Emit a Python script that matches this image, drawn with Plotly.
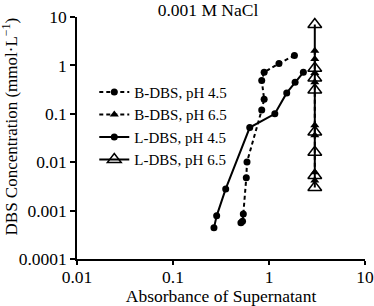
import plotly.graph_objects as go

# B-DBS, pH 4.5 (dashed, filled circles)
b45_x = [1.84, 1.27, 0.89, 0.84, 0.89, 0.84, 0.59, 0.58, 0.54, 0.53, 0.51]
b45_y = [1.6, 1.1, 0.72, 0.49, 0.2, 0.12, 0.0101, 0.0048, 0.00085, 0.0006, 0.00056]

# B-DBS, pH 6.5 (dashed, filled triangles)
b65_x = [3.0, 3.0, 3.0, 3.0, 3.0, 3.0, 3.0, 3.0]
b65_y = [2.0, 1.35, 0.7, 0.45, 0.058, 0.036, 0.0062, 0.0042]

# L-DBS, pH 4.5 (solid, filled circles)
l45_x = [2.28, 1.87, 1.53, 1.15, 0.63, 0.354, 0.285, 0.267]
l45_y = [0.72, 0.45, 0.27, 0.1, 0.052, 0.0028, 0.00078, 0.00044]

# L-DBS, pH 6.5 (solid, open triangles)
l65_x = [3.0, 3.0, 3.0, 3.0, 3.0, 3.0, 3.0, 3.0]
l65_y = [7.0, 0.87, 0.55, 0.31, 0.042, 0.016, 0.0053, 0.003]

x_tickvals = [0.01, 0.1, 1, 10]
x_ticktext = ["0.01", "0.1", "1", "10"]
y_tickvals = [0.0001, 0.001, 0.01, 0.1, 1, 10]
y_ticktext = ["0.0001", "0.001", "0.01", "0.1", "1", "10"]

FONT = "Liberation Serif"
FS = 17.5

fig = go.Figure()
fig.add_trace(go.Scatter(x=b45_x, y=b45_y, mode="lines+markers", name="B-DBS, pH 4.5",
                         line=dict(color="black", width=2, dash="4px,3px"),
                         marker=dict(symbol="circle", size=7, color="black")))
fig.add_trace(go.Scatter(x=b65_x, y=b65_y, mode="lines+markers", name="B-DBS, pH 6.5",
                         line=dict(color="black", width=2, dash="4px,3px"),
                         marker=dict(symbol="triangle-up", size=8, color="black")))
fig.add_trace(go.Scatter(x=l45_x, y=l45_y, mode="lines+markers", name="L-DBS, pH 4.5",
                         line=dict(color="black", width=2),
                         marker=dict(symbol="circle", size=7, color="black")))
fig.add_trace(go.Scatter(x=l65_x, y=l65_y, mode="lines+markers", name="L-DBS, pH 6.5",
                         line=dict(color="black", width=2),
                         marker=dict(symbol="triangle-up-open", size=12, color="black",
                                     line=dict(width=1.5, color="black"))))

fig.update_layout(
    width=374, height=306,
    margin=dict(l=77, r=9, t=17, b=47),
    paper_bgcolor="white", plot_bgcolor="white",
    font=dict(family=FONT, size=FS, color="black"),
    title=dict(text="0.001 M NaCl", x=208 / 374, xanchor="center", xref="container",
               y=1 - 10 / 306, yanchor="middle", yref="container",
               font=dict(family=FONT, size=FS, color="black")),
    showlegend=True,
    legend=dict(x=0.06, y=0.757, xanchor="left", yanchor="top",
                font=dict(family=FONT, size=15, color="black"),
                bgcolor="rgba(0,0,0,0)", tracegroupgap=0, itemwidth=30),
    xaxis=dict(type="log", range=[-2, 1], tickvals=x_tickvals, ticktext=x_ticktext,
               automargin=False,
               showgrid=False, zeroline=False, showline=True, linecolor="black", linewidth=1.5,
               ticks="outside", ticklen=4, tickcolor="black", tickwidth=1.5,
               ticklabelstandoff=-3,
               title=dict(text="Absorbance of Supernatant", standoff=0,
                          font=dict(family=FONT, size=FS)),
               tickfont=dict(family=FONT, size=FS)),
    yaxis=dict(type="log", range=[-4, 1], tickvals=y_tickvals, ticktext=y_ticktext,
               automargin=False,
               showgrid=False, zeroline=False, showline=True, linecolor="black", linewidth=1.5,
               ticks="outside", ticklen=5, tickcolor="black", tickwidth=1.5,
               tickfont=dict(family=FONT, size=FS)),
    annotations=[dict(text="DBS Concentration (mmol·L<sup>−1</sup>)", textangle=-90,
                      xref="paper", yref="paper", x=-67 / 288, y=(258 - 126) / 241,
                      xanchor="center", yanchor="middle", showarrow=False,
                      font=dict(family=FONT, size=17, color="black"))],
)

fig.write_html("out.html", config={"displayModeBar": False},
               post_script="document.body.style.margin='0';")
